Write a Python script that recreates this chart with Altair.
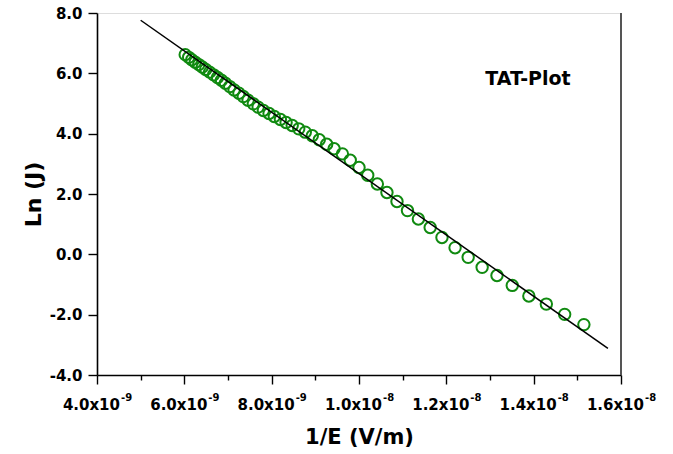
import altair as alt
import pandas as pd

# ---- data ----
INV_E = [6.02e-9, 6.10e-9, 6.17e-9, 6.25e-9, 6.33e-9, 6.41e-9, 6.49e-9, 6.58e-9,
         6.67e-9, 6.76e-9, 6.85e-9, 6.94e-9, 7.04e-9, 7.14e-9, 7.25e-9, 7.35e-9,
         7.46e-9, 7.58e-9, 7.69e-9, 7.81e-9, 7.94e-9, 8.06e-9, 8.20e-9, 8.33e-9,
         8.47e-9, 8.62e-9, 8.77e-9, 8.93e-9, 9.09e-9, 9.26e-9, 9.43e-9, 9.62e-9,
         9.80e-9, 1.000e-8, 1.020e-8, 1.042e-8, 1.064e-8, 1.087e-8, 1.111e-8,
         1.136e-8, 1.163e-8, 1.190e-8, 1.220e-8, 1.250e-8, 1.282e-8, 1.316e-8,
         1.351e-8, 1.389e-8, 1.429e-8, 1.471e-8, 1.515e-8]
LN_J = [6.62, 6.53, 6.45, 6.37, 6.29, 6.21, 6.13, 6.04,
        5.95, 5.86, 5.77, 5.67, 5.56, 5.45, 5.34, 5.23,
        5.11, 4.99, 4.88, 4.77, 4.67, 4.57, 4.47, 4.37,
        4.27, 4.16, 4.05, 3.93, 3.80, 3.65, 3.50, 3.33,
        3.12, 2.88, 2.62, 2.33, 2.05, 1.75, 1.45,
        1.17, 0.89, 0.56, 0.22, -0.10, -0.43, -0.70,
        -1.03, -1.38, -1.65, -1.99, -2.33]

FIT_X = [5.0e-9, 1.57e-8]
FIT_Y = [7.76, -3.12]

X_TICKS = [4e-9, 5e-9, 6e-9, 7e-9, 8e-9, 9e-9, 1.0e-8, 1.1e-8, 1.2e-8, 1.3e-8,
           1.4e-8, 1.5e-8, 1.6e-8]
X_LABEL_POS = [4e-9, 6e-9, 8e-9, 1.0e-8, 1.2e-8, 1.4e-8, 1.6e-8]
X_LABEL_MAIN = ["4.0x10", "6.0x10", "8.0x10", "1.0x10", "1.2x10", "1.4x10", "1.6x10"]
X_LABEL_EXP = ["-9", "-9", "-9", "-8", "-8", "-8", "-8"]
Y_TICKS = [-4, -3, -2, -1, 0, 1, 2, 3, 4, 5, 6, 7, 8]

X_TITLE = "1/E (V/m)"
Y_TITLE = "Ln (J)"
ANNOT = ["TAT-Plot"]

FONT = "DejaVu Sans"
GREEN = "#108a10"
PLOT_H = 362

pts = pd.DataFrame({"x": INV_E, "y": LN_J})
fit = pd.DataFrame({"x": FIT_X, "y": FIT_Y})
one = pd.DataFrame({"t": ANNOT})
xlab = pd.DataFrame({"x": X_LABEL_POS, "main": X_LABEL_MAIN, "exp": X_LABEL_EXP})

xscale = alt.Scale(domain=[4e-9, 1.6e-8], nice=False, zero=False)
yscale = alt.Scale(domain=[-4, 8], nice=False, zero=False)

x_even = "round(datum.value*1e9) % 2 == 0"
y_even = "round(datum.value) % 2 == 0"
y_label_expr = (y_even + " ? replace(format(datum.value, '.1f'), '\u2212', '-') : ''")

xaxis = alt.Axis(values=X_TICKS, labels=False, title=X_TITLE,
                 grid=False, domainColor="black", domainWidth=1.6,
                 tickColor="black", tickWidth=1.4,
                 tickSize={"condition": {"test": x_even, "value": 9}, "value": 5},
                 titleFont=FONT, titleFontSize=21, titleFontWeight="bold",
                 titleColor="black", titlePadding=42)
yaxis = alt.Axis(values=Y_TICKS, labelExpr=y_label_expr, title=Y_TITLE,
                 grid=False, domainColor="black", domainWidth=1.6,
                 tickColor="black", tickWidth=1.4,
                 tickSize={"condition": {"test": y_even, "value": 9}, "value": 5},
                 labelFont=FONT, labelFontSize=15, labelFontWeight="bold",
                 labelColor="black", labelPadding=6,
                 titleFont=FONT, titleFontSize=22, titleFontWeight="bold",
                 titleColor="black", titlePadding=4)

points = alt.Chart(pts).mark_point(shape="circle", filled=False, size=130,
                                   strokeWidth=2, color=GREEN, opacity=1).encode(
    x=alt.X("x:Q", scale=xscale, axis=xaxis),
    y=alt.Y("y:Q", scale=yscale, axis=yaxis),
)

line = alt.Chart(fit).mark_line(color="black", strokeWidth=1.5).encode(
    x=alt.X("x:Q", scale=xscale),
    y=alt.Y("y:Q", scale=yscale),
)

border = alt.Chart(one).mark_rule(color="#555555", strokeWidth=2).encode(
    x=alt.datum(1.6e-8),
    y=alt.datum(-4),
    y2=alt.datum(8),
)

annot = alt.Chart(one).mark_text(font=FONT, fontSize=19,
                                 fontWeight="bold", color="black",
                                 align="center", baseline="middle").encode(
    text="t:N",
    x=alt.datum(1.387e-8),
    y=alt.datum(5.8),
)

lab_main = alt.Chart(xlab).mark_text(font=FONT, fontSize=15, fontWeight="bold",
                                     color="black", align="right",
                                     baseline="alphabetic", dx=23).encode(
    x=alt.X("x:Q", scale=xscale),
    y=alt.value(PLOT_H + 35),
    text="main:N",
)
lab_exp = alt.Chart(xlab).mark_text(font=FONT, fontSize=10, fontWeight="bold",
                                    color="black", align="left",
                                    baseline="alphabetic", dx=24).encode(
    x=alt.X("x:Q", scale=xscale),
    y=alt.value(PLOT_H + 26),
    text="exp:N",
)

chart = alt.layer(points, line, border, annot, lab_main, lab_exp).properties(
    width=524, height=PLOT_H,
    padding={"left": 97, "top": 13, "right": 52, "bottom": 79},
    autosize=alt.AutoSizeParams(type="none"),
).configure_view(stroke=None).configure(background="white")

chart.save("out.html", embed_options={"renderer": "svg", "actions": False})
